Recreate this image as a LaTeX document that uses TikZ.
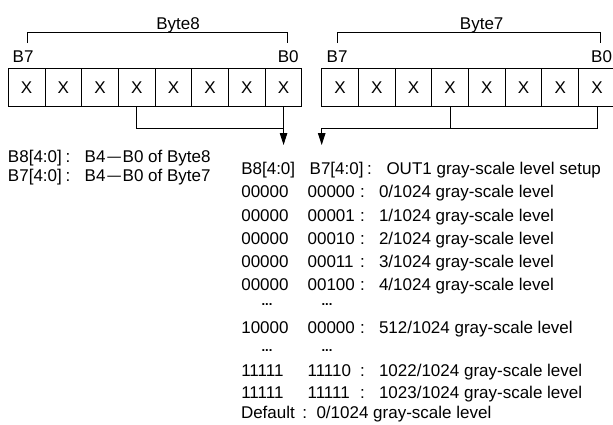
\documentclass[tikz,border=0pt]{standalone}
\usepackage{fontspec}
\setmainfont{Liberation Sans}
\newfontfamily\cjk{Noto Sans CJK SC}
\usetikzlibrary{arrows.meta}
\begin{document}
\begin{tikzpicture}[x=1pt,y=-1pt,
  every node/.style={inner sep=0pt,outer sep=0pt,font=\fontsize{17}{20}\selectfont},
  cell/.style={draw,line width=0.9pt,minimum width=36.7pt,minimum height=37.7pt},
  txt/.style={anchor=base west},
  ctxt/.style={anchor=base},
  rtxt/.style={anchor=base east},
  dots/.style={anchor=base,text height=2pt,text depth=0pt,font=\fontsize{13}{13}\selectfont\bfseries},
  wire/.style={line width=0.9pt},
  arr/.style={line width=0.9pt,-{Triangle[length=12pt,width=7.5pt]}}]
\useasboundingbox (0,0) rectangle (613,424);
\fill[white] (0,0) rectangle (613,424);

% cells
\foreach \i in {1,...,8}{
  \node[cell] (b8c\i) at ({8.3+(\i-0.5)*36.7},87.15) {X};
  \node[cell] (b7c\i) at ({321.7+(\i-0.5)*36.7},87.15) {X};
}

% top brackets
\node[ctxt] (t8) at (178,29.5) {Byte8};
\node[ctxt] (t7) at (481.7,29.5) {Byte7};
\coordinate (k8a) at (27,43);  \coordinate (k8b) at (287,43);
\coordinate (k7a) at (337,43); \coordinate (k7b) at (600,43);
\coordinate (top) at (0,32);
\draw[wire] (k8a) -- (k8a |- top) -- (k8b |- top) -- (k8b);
\draw[wire] (k7a) -- (k7a |- top) -- (k7b |- top) -- (k7b);
\node[txt] (b8hi) at (12.7,62) {B7};
\node[rtxt] (b8lo) at (298.7,62) {B0};
\node[txt] (b7hi) at (326.7,62) {B7};
\node[rtxt] (b7lo) at (612,62) {B0};

% bottom brackets and arrows
\coordinate (lev) at (0,128);
\coordinate (tip) at (0,145);
\draw[wire] (b8c4.south) |- (b8c8.south |- lev);
\draw[arr] (b8c8.south) -- (b8c8.south |- tip);
\draw[wire] (b7c4.south) -- (b7c4.south |- lev);
\draw[wire] (b7c8.south) |- (b7c1.south west |- lev);
\draw[arr] (b7c1.south west |- lev) -- (b7c1.south west |- tip);

% left notes
\node[txt] (n1a) at (8,162.7) {B8[4:0]};
\node[ctxt] (n1b) at (68,162.7) {:};
\node[txt] (n1c) at (84.7,162.7) {B4};
\node[ctxt] (n1d) at (114.3,162.7) {\cjk —};
\node[txt] (n1e) at (122.7,162.7) {B0 of Byte8};
\node[txt] (n2a) at (8,181.3) {B7[4:0]};
\node[ctxt] (n2b) at (68,181.3) {:};
\node[txt] (n2c) at (84.7,181.3) {B4};
\node[ctxt] (n2d) at (114.3,181.3) {\cjk —};
\node[txt] (n2e) at (122.7,181.3) {B0 of Byte7};

% table
\node[txt] (r1a) at (241.3,174.3) {B8[4:0]};
\node[txt] (r1b) at (309.7,174.3) {B7[4:0]};
\node[ctxt] (r1c) at (369.5,174.3) {:};
\node[txt] (r1d) at (386.5,174.3) {OUT1 gray-scale level setup};

\foreach \n/\y/\a/\b/\d in {2/197.5/00000/00000/0, 3/221/00000/00001/1, 4/244/00000/00010/2, 5/267.5/00000/00011/3, 6/290/00000/00100/4, 7/333/10000/00000/512, 8/376.5/11111/11110/1022, 9/398/11111/11111/1023}{
  \node[txt] (r\n a) at (241.3,\y) {\a};
  \node[txt] (r\n b) at (307.6,\y) {\b};
  \node[ctxt] (r\n c) at (362.5,\y) {:};
  \node[txt] (r\n d) at (379,\y) {\d/1024 gray-scale level};
}
\node[dots] (e1a) at (267,305.5) {...};
\node[dots] (e1b) at (327,305.5) {...};
\node[dots] (e2a) at (267,351) {...};
\node[dots] (e2b) at (327,351) {...};

\node[txt] (dfa) at (241,418.3) {Default};
\node[ctxt] (dfb) at (304.7,418.3) {:};
\node[txt] (dfc) at (316.5,418.3) {0/1024 gray-scale level};
\end{tikzpicture}
\end{document}
